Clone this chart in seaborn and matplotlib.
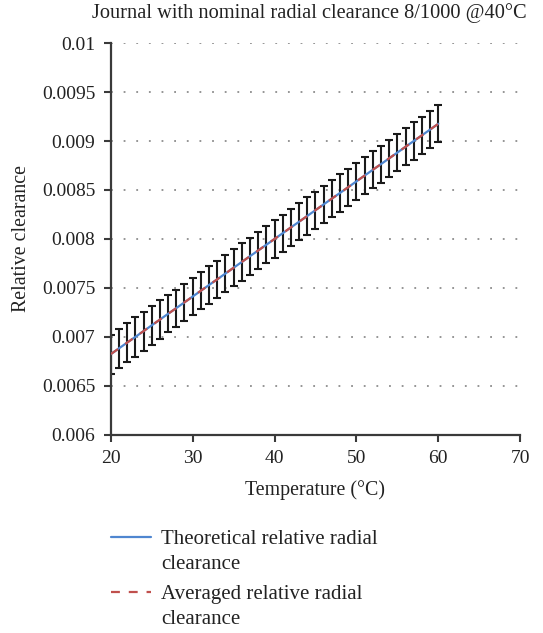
import matplotlib
matplotlib.use("Agg")
import matplotlib.pyplot as plt
import seaborn as sns
import pandas as pd
from matplotlib.ticker import FuncFormatter
from matplotlib.offsetbox import HPacker

# Temperature sweep (°C)
temperature = [20, 21, 22, 23, 24, 25, 26, 27, 28, 29,
               30, 31, 32, 33, 34, 35, 36, 37, 38, 39,
               40, 41, 42, 43, 44, 45, 46, 47, 48, 49,
               50, 51, 52, 53, 54, 55, 56, 57, 58, 59, 60]

# Theoretical relative radial clearance
theoretical = [0.006824, 0.006883, 0.006942, 0.007000, 0.007059, 0.007118, 0.007177,
               0.007236, 0.007294, 0.007353, 0.007412, 0.007471, 0.007530, 0.007588,
               0.007647, 0.007706, 0.007765, 0.007824, 0.007882, 0.007941, 0.008000,
               0.008059, 0.008118, 0.008176, 0.008235, 0.008294, 0.008353, 0.008412,
               0.008470, 0.008529, 0.008588, 0.008647, 0.008706, 0.008764, 0.008823,
               0.008882, 0.008941, 0.009000, 0.009058, 0.009117, 0.009176]

# Averaged relative radial clearance
averaged = [0.006824, 0.006883, 0.006942, 0.007000, 0.007059, 0.007118, 0.007177,
            0.007236, 0.007294, 0.007353, 0.007412, 0.007471, 0.007530, 0.007588,
            0.007647, 0.007706, 0.007765, 0.007824, 0.007882, 0.007941, 0.008000,
            0.008059, 0.008118, 0.008176, 0.008235, 0.008294, 0.008353, 0.008412,
            0.008470, 0.008529, 0.008588, 0.008647, 0.008706, 0.008764, 0.008823,
            0.008882, 0.008941, 0.009000, 0.009058, 0.009117, 0.009176]

# Half-width of the spread around the average
spread = [0.00020, 0.00020, 0.00020, 0.00020, 0.00020, 0.00020, 0.00020,
          0.00019, 0.00019, 0.00019, 0.00019, 0.00019, 0.00019, 0.00019,
          0.00019, 0.00019, 0.00019, 0.00019, 0.00019, 0.00019, 0.00019,
          0.00019, 0.00019, 0.00019, 0.00019, 0.00019, 0.00019, 0.00019,
          0.00019, 0.00019, 0.00019, 0.00019, 0.00019, 0.00019, 0.00019,
          0.00019, 0.00019, 0.00019, 0.00019, 0.00019, 0.00019]

y_ticks = [0.006, 0.0065, 0.007, 0.0075, 0.008, 0.0085, 0.009, 0.0095, 0.01]
x_ticks = [20, 30, 40, 50, 60, 70]

sns.set_theme(style="white")
plt.rcParams["font.family"] = ["Liberation Serif", "DejaVu Serif"]
plt.rcParams["font.size"] = 14

df = pd.DataFrame({"T": temperature, "theo": theoretical, "avg": averaged, "err": spread})

fig = plt.figure(figsize=(5.43, 6.33), dpi=100)
ax = fig.add_axes([0.204, 0.313, 0.754, 0.619])

# dotted horizontal grid
for yv in y_ticks[1:]:
    ax.axhline(yv, color="#8c8c8c", linestyle=(0, (1, 6)), linewidth=1.3, zorder=0)

ax.errorbar(df["T"], df["avg"], yerr=df["err"], fmt="none", ecolor="#1a1a1a",
            elinewidth=1.5, capsize=3.2, capthick=1.5, zorder=2)

sns.lineplot(data=df, x="T", y="theo", ax=ax, color="#4f86d0", linewidth=1.6,
             label="Theoretical relative radial\nclearance", zorder=3)
sns.lineplot(data=df, x="T", y="avg", ax=ax, color="#c0504d", linewidth=1.6,
             linestyle=(0, (4, 4)), label="Averaged relative radial\nclearance", zorder=4)

ax.set_xlim(20, 70)
ax.set_ylim(0.006, 0.01)
ax.set_xticks(x_ticks)
ax.set_yticks(y_ticks)
ax.yaxis.set_major_formatter(FuncFormatter(lambda v, p: f"{v:g}"))

for side in ["top", "right"]:
    ax.spines[side].set_visible(False)
for side in ["left", "bottom"]:
    ax.spines[side].set_color("#3a3a3a")
    ax.spines[side].set_linewidth(1.6)

ax.tick_params(axis="both", which="major", direction="out", length=5, width=1.5,
               color="#3a3a3a", labelsize=14, labelcolor="#222222",
               left=True, bottom=True, pad=6)

ax.set_xlabel("Temperature (°C)", fontsize=14.3, color="#222222", labelpad=9)
ax.set_ylabel("Relative clearance", fontsize=14.3, color="#222222", labelpad=8)
ax.set_title("Journal with nominal radial clearance 8/1000 @40°C", fontsize=14.7,
             color="#222222", pad=18)
ax.title.set_x(0.484)

leg = ax.legend(loc="upper left", bbox_to_anchor=(-0.045, -0.195), frameon=False,
                fontsize=15, handlelength=1.9, labelspacing=0.5, handletextpad=0.5)
for t in leg.get_texts():
    t.set_color("#222222")
    t.set_linespacing(1.45)

# put each legend key level with the first line of its label
def _top_align(box):
    for child in box.get_children():
        if isinstance(child, HPacker) and len(child.get_children()) == 2:
            child.align = "top"
        _top_align(child)

_top_align(leg._legend_handle_box)

fig.savefig("out.png", dpi=100)
